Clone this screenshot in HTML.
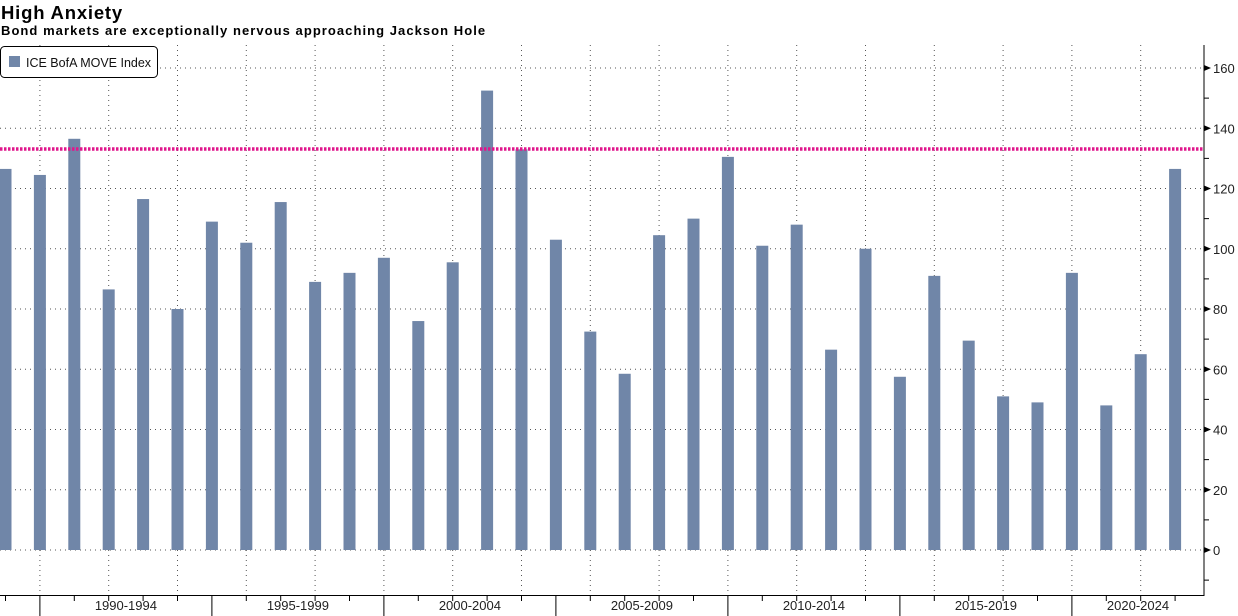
<!DOCTYPE html>
<html><head><meta charset="utf-8"><style>
body{margin:0;background:#fff;}
svg{display:block;font-family:"Liberation Sans",sans-serif;}
</style></head><body>
<svg width="1238" height="616" xmlns="http://www.w3.org/2000/svg">
<text x="1" y="19" font-size="18.5" font-weight="bold" fill="#000" letter-spacing="0.8">High Anxiety</text>
<text x="1" y="35" font-size="13" font-weight="bold" fill="#000" letter-spacing="1.05">Bond markets are exceptionally nervous approaching Jackson Hole</text>
<g id="g"></g>
<g id="b"></g>
<line x1="0" y1="149" x2="1203" y2="149" stroke="#e0168c" stroke-width="3.5" stroke-dasharray="2.5,1.5"/>
<rect x="0.5" y="46.5" width="157" height="31" rx="4" fill="#fff" stroke="#000"/>
<rect x="9" y="56" width="11" height="11" fill="#7086a8"/>
<text x="26" y="67" font-size="12.5" fill="#111">ICE BofA MOVE Index</text>
<line x1="1204" y1="45" x2="1204" y2="596" stroke="#000"/>
<line x1="0" y1="595.5" x2="1204" y2="595.5" stroke="#000"/>
<g id="ax" font-size="13" fill="#222"></g>
</svg>
<script>
var NS="http://www.w3.org/2000/svg";
function el(p,t,a,txt){var e=document.createElementNS(NS,t);for(var k in a)e.setAttribute(k,a[k]);if(txt!=null)e.textContent=txt;document.getElementById(p).appendChild(e);}
var vals=[126.5,124.5,136.5,86.5,116.5,80,109,102,115.5,89,92,97,76,95.5,152.5,133,103,72.5,58.5,104.5,110,130.5,101,108,66.5,100,57.5,91,69.5,51,49,92,48,65,126.5];
function Y(v){return 550-v*3.0125;}
for(var v=0;v<=160;v+=20){el("g","line",{x1:0,x2:1203,y1:Y(v),y2:Y(v),stroke:"#555","stroke-width":1,"stroke-dasharray":"1,4"});
el("ax","path",{d:"M1204 "+(Y(v)-3)+" L1211 "+Y(v)+" L1204 "+(Y(v)+3)+"Z",fill:"#000"});
el("ax","text",{x:1213,y:Y(v)+5},String(v));}
for(var v=-10;v<=160;v+=20){el("ax","line",{x1:1204,x2:1209,y1:Y(v),y2:Y(v),stroke:"#000"});}
for(var i=0;i<35;i++){var c=5.5+34.4*i;
if(i%2==1)el("g","line",{x1:c,x2:c,y1:45,y2:595,stroke:"#555","stroke-width":1,"stroke-dasharray":"1,4"});
el("b","rect",{x:c-6,y:Y(vals[i]),width:12,height:550-Y(vals[i]),fill:"#7086a8"});
if((i-1)%5==0)el("ax","line",{x1:c,x2:c,y1:596,y2:616,stroke:"#000"});else el("ax","line",{x1:c,x2:c,y1:596,y2:601,stroke:"#000"});}
var labs=["1990-1994","1995-1999","2000-2004","2005-2009","2010-2014","2015-2019","2020-2024"];
for(var j=0;j<7;j++){var x=j<6?5.5+34.4*(3.5+5*j):1138;el("ax","text",{x:x,y:610,"text-anchor":"middle"},labs[j]);}
</script>
</body></html>
